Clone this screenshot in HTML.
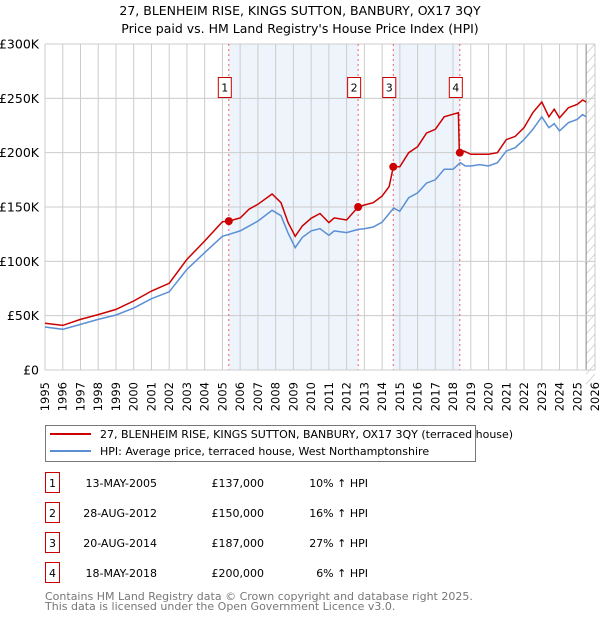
<!DOCTYPE html>
<html><head><meta charset="utf-8"><style>
body{margin:0;background:#fff;font-family:"Liberation Sans","DejaVu Sans",sans-serif;}
svg text{font-family:"DejaVu Sans","Liberation Sans",sans-serif;}
</style></head><body>
<svg id="c" width="600" height="620" xmlns="http://www.w3.org/2000/svg">
<text x="300" y="15" text-anchor="middle" font-size="12.5" fill="#000">27, BLENHEIM RISE, KINGS SUTTON, BANBURY, OX17 3QY</text>
<text x="300" y="33" text-anchor="middle" font-size="12.5" fill="#000">Price paid vs. HM Land Registry's House Price Index (HPI)</text>
<g id="plot"></g>
<g>
<rect x="45.5" y="425.5" width="430" height="36" fill="#fff" stroke="#777"/>
<line x1="50" y1="434" x2="91" y2="434" stroke="#cc0000" stroke-width="2"/>
<text x="100" y="438" font-size="11">27, BLENHEIM RISE, KINGS SUTTON, BANBURY, OX17 3QY (terraced house)</text>
<line x1="50" y1="451" x2="91" y2="451" stroke="#5b8fd4" stroke-width="2"/>
<text x="100" y="455" font-size="11">HPI: Average price, terraced house, West Northamptonshire</text>
</g>
<g id="tbl" font-size="11"></g>
<text x="45" y="600" font-size="11" fill="#777">Contains HM Land Registry data © Crown copyright and database right 2025.</text>
<text x="45" y="610" font-size="11" fill="#777">This data is licensed under the Open Government Licence v3.0.</text>
</svg>
<script>
const hpiYears=[1995,1996,1997,1998,1999,2000,2001,2002,2003,2004,2005,2005.4,2006,2007,2007.8,2008.3,2008.7,2009.1,2009.5,2010,2010.5,2011,2011.3,2012,2012.65,2013,2013.5,2014,2014.65,2015,2015.5,2016,2016.5,2017,2017.5,2018,2018.4,2018.7,2019,2019.5,2020,2020.5,2021,2021.5,2022,2022.5,2023,2023.4,2023.7,2024,2024.5,2025,2025.3,2025.5];
const hpiValues=[39.6,37.5,42,46.6,50.6,57,65.6,72,92.6,108,123,125,128,137,147,142,126,112.6,122,128,130,124,128,126.4,129.4,130,131.6,136,149,146,158.6,163,172,175,184.7,184.7,190.8,187.7,187.7,189,187.7,190.8,201.5,204.6,212,221.5,233,223,226.7,220,227.6,230.7,235,233];
const propYears=[1995,1996,1997,1998,1999,2000,2001,2002,2003,2004,2005,2005.36,2006,2006.5,2007,2007.8,2008.3,2008.7,2009.1,2009.5,2010,2010.5,2011,2011.3,2012,2012.65,2013,2013.5,2014,2014.4,2014.63,2015,2015.5,2016,2016.5,2017,2017.5,2018.3,2018.35,2018.38,2018.6,2019,2020,2020.5,2021,2021.5,2022,2022.5,2023,2023.4,2023.7,2024,2024.5,2025,2025.3,2025.5];
const propValues=[43,41,46.6,51,55.8,63.5,72.7,79.8,101.8,118.7,136.5,137,140,148,152.5,162,154,135.6,123,132.5,139.6,144,135.6,140,138,150,151.8,154,160,169,187,187,200,205.5,218,221.5,233,236.8,201.5,200,201.5,198.5,198.5,200,212,215,223,237,246.6,233,240,232,241.4,244.5,248.5,246.6];
const saleYears=[2005.36,2012.65,2014.63,2018.38];
const saleValues=[137,150,187,200];
const saleLabels=["1","2","3","4"];
const saleDates=["13-MAY-2005","28-AUG-2012","20-AUG-2014","18-MAY-2018"];
const salePrices=["£137,000","£150,000","£187,000","£200,000"];
const saleHpi=["10% ↑ HPI","16% ↑ HPI","27% ↑ HPI","6% ↑ HPI"];
const yTicks=[0,50,100,150,200,250,300];
const yTickLabels=["£0","£50K","£100K","£150K","£200K","£250K","£300K"];

const NS="http://www.w3.org/2000/svg";
const L=45,R=595,T=44,B=370,Y0=1995,Y1=2026;
const xs=y=>L+(y-Y0)/(Y1-Y0)*(R-L);
const ys=v=>B-v/300*(B-T);
function mk(tag,attrs,parent){const e=document.createElementNS(NS,tag);for(const k in attrs)e.setAttribute(k,attrs[k]);parent.appendChild(e);return e;}
const g=document.getElementById('plot');
for(let i=0;i<saleYears.length;i+=2){
 const r=mk('rect',{x:xs(saleYears[i]),y:T,width:xs(saleYears[i+1])-xs(saleYears[i]),height:B-T,fill:'#eef4fc'},g);
 
 
}
const hx=xs(2025.5);
const hatch=mk('g',{},g);


mk('rect',{x:hx,y:T,width:R-hx,height:B-T,fill:'#fff'},hatch);
for(let yy=T;yy<B+10;yy+=10){mk('line',{x1:hx,y1:yy+10,x2:R,y2:yy,stroke:'#ccc','stroke-width':0.8},hatch);}
mk('line',{x1:hx,y1:T,x2:hx,y2:B,stroke:'#888','stroke-width':1},hatch);
for(let y=Y0;y<=Y1;y++){
 const l=mk('line',{x1:xs(y),y1:T,x2:xs(y),y2:B,stroke:'#ccc','stroke-width':1},g);
 
 
 const t=mk('text',{x:0,y:0,transform:`translate(${xs(y)+4},${382}) rotate(-90)`,'text-anchor':'end','font-size':11.5},g);
 t.textContent=y;
 
 
}
yTicks.forEach((v,i)=>{
 const l=mk('line',{x1:L,y1:ys(v),x2:R,y2:ys(v),stroke:'#ccc','stroke-width':1},g);
 
 
 const t=mk('text',{x:39,y:ys(v)+4.5,'text-anchor':'end','font-size':12.5},g);
 t.textContent=yTickLabels[i];
 
 
});
saleYears.forEach((s,i)=>{
 const l=mk('line',{x1:xs(s),y1:T,x2:xs(s),y2:B,stroke:'#f06060','stroke-width':1,'stroke-dasharray':'2,3'},g);
 
 
});
const pts=(xa,va)=>xa.map((x,i)=>xs(x).toFixed(1)+','+ys(va[i]).toFixed(1)).join(' ');
const hp=mk('polyline',{points:pts(hpiYears,hpiValues),fill:'none',stroke:'#5b8fd4','stroke-width':1.5},g);


const pp=mk('polyline',{points:pts(propYears,propValues),fill:'none',stroke:'#cc0000','stroke-width':1.5},g);


saleYears.forEach((s,i)=>{
 const c=mk('circle',{cx:xs(s),cy:ys(saleValues[i]),r:4,fill:'#cc0000'},g);
 
 
 const b=mk('rect',{x:xs(s)-10.5,y:77.5,width:13,height:20,fill:'#fff',stroke:'#cc0000'},g);
 
 
 const t=mk('text',{x:xs(s)-4,y:91.5,'text-anchor':'middle','font-size':11},g);
 t.textContent=saleLabels[i];
 
 
});
mk('line',{x1:L,y1:B,x2:R,y2:B,stroke:'#ccc'},g);
const tb=document.getElementById('tbl');
saleLabels.forEach((s,i)=>{
 const y=483+i*30;
 const b=mk('rect',{x:45.5,y:y-10.5,width:14,height:20,fill:'#fff',stroke:'#cc0000'},tb);
 
 
 const n=mk('text',{x:52.5,y:y+4,'text-anchor':'middle'},tb);n.textContent=s;
 
 
 const d=mk('text',{x:157,y:y+4,'text-anchor':'end'},tb);d.textContent=saleDates[i];
 
 
 const p=mk('text',{x:264,y:y+4,'text-anchor':'end'},tb);p.textContent=salePrices[i];
 
 
 const h=mk('text',{x:368,y:y+4,'text-anchor':'end'},tb);h.textContent=saleHpi[i];
 
 
});
</script>
</body></html>
